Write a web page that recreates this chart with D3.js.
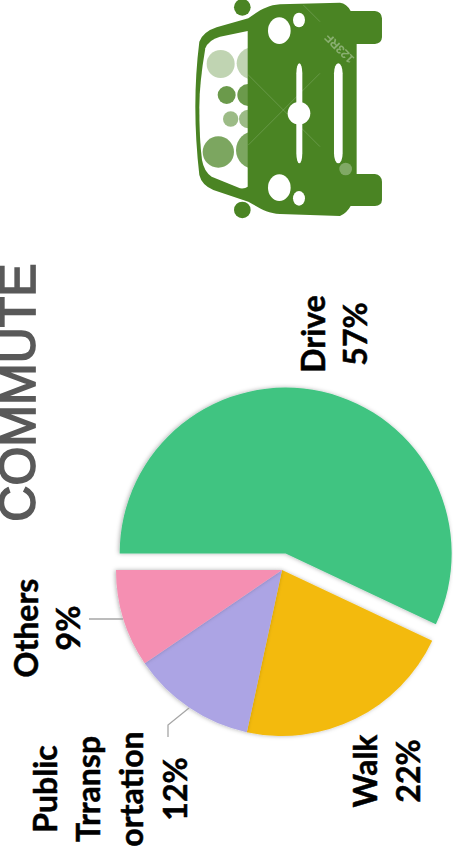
<!DOCTYPE html>
<html><head><meta charset="utf-8">
<script src="https://cdn.jsdelivr.net/npm/d3@7/dist/d3.min.js"></script>
<style>html,body{margin:0;padding:0;background:#fff;overflow:hidden}svg{display:block}</style>
</head><body>
<svg id="c" width="453" height="859"></svg>
<script>
const categories = ["Drive", "Walk", "Public Transportation", "Others"];
const shares = [57, 21.4, 12.1, 9.5];
const sliceColors = ["#3fc481", "#f3ba0f", "#aca4e4", "#f58fb2"];
const labelLines = [["Drive", "57%"], ["Walk", "22%"], ["Public", "Trransp", "ortation", "12%"], ["Others", "9%"]];
const labelBaselines = [[325, 367], [377, 420], [57, 100, 143, 187], [38, 80]];
const labelCentres = [334, 771, 789, 628];
const titleText = "COMMUTE";

const svg = d3.select("#c");
const defs = svg.append("defs");
const f = defs.append("filter").attr("id", "sh").attr("x", "-10%").attr("y", "-10%").attr("width", "120%").attr("height", "120%");
f.append("feDropShadow").attr("dx", -1).attr("dy", 0).attr("stdDeviation", 2).attr("flood-color", "#000").attr("flood-opacity", 0.3);

// title
svg.append("text").text(titleText)
  .attr("transform", "translate(35,392.5) rotate(-90)")
  .attr("text-anchor", "middle")
  .attr("font-family", "'Liberation Sans'")
  .attr("font-size", 50).attr("fill", "#595959")
  .attr("stroke", "#595959").attr("stroke-width", 1.7);

// pie: starts pointing left, clockwise
const cx = 282, cy = 570, R = 166, explode = 16.8;
const pie = d3.pie().sort(null).startAngle(-Math.PI / 2).endAngle(1.5 * Math.PI);
const arc = d3.arc().innerRadius(0).outerRadius(R);
const arcs = pie(shares);
const g = svg.append("g").attr("transform", `translate(${cx},${cy})`);
g.selectAll("path").data(arcs).join("path")
  .attr("d", arc).attr("fill", (d, i) => sliceColors[i])
  .attr("filter", "url(#sh)")
  .attr("transform", (d, i) => {
    if (i !== 0) return null;
    const a = (d.startAngle + d.endAngle) / 2;
    return `translate(${explode * Math.sin(a)},${-explode * Math.cos(a)})`;
  });

// leaders
const leader = d3.line();
svg.append("path").attr("d", leader([[89, 619], [123, 619]])).attr("fill", "none").attr("stroke", "#a6a6a6").attr("stroke-width", 1.3);
svg.append("path").attr("d", leader([[189, 708], [168, 725], [168, 737]])).attr("fill", "none").attr("stroke", "#a6a6a6").attr("stroke-width", 1.3);

// labels
labelLines.forEach((lines, i) => {
  lines.forEach((t, j) => {
    svg.append("text").text(t)
      .attr("transform", `translate(${labelBaselines[i][j]},${labelCentres[i]}) rotate(-90)`)
      .attr("text-anchor", "middle")
      .attr("font-family", "Lato").attr("font-weight", 700)
      .attr("font-size", 32).attr("fill", "#000")
      .attr("stroke", "#000").attr("stroke-width", 0.5);
  });
});

// car icon (zoom-space coordinates: px = 180 + x/3, py = y/3)
const car = svg.append("g").attr("transform", "translate(180,0) scale(0.3333)");
const green = "#4a8423";
car.append("path").attr("fill", green).attr("d",
 "M205 55 C240 30 262 16 300 13 L480 8 Q500 10 512 33 L585 33 Q605 35 606 55 L606 112 Q605 130 585 132 L530 132 L530 522 L585 522 Q605 525 606 545 L606 600 Q605 617 585 618 L512 618 Q500 640 480 648 L300 642 C262 640 240 625 205 605 L100 570 Q65 555 58 525 Q46 420 46 320 Q46 220 58 125 Q70 95 110 82 Z");
car.append("path").attr("fill", "#fff").attr("d",
 "M203 93 L120 110 Q85 120 76 145 Q58 250 58 320 Q58 420 66 480 Q72 515 95 530 L180 565 Q195 567 203 560 Z");
car.append("circle").attr("cx", 187).attr("cy", 22).attr("r", 25).attr("fill", green);
car.append("circle").attr("cx", 187).attr("cy", 630).attr("r", 25).attr("fill", green);
const bub = [[122,192,42,.35],[140,285,27,.82],[152,357,23,.55],[115,456,47,.72]];
car.selectAll(".b").data(bub).join("circle").attr("cx",d=>d[0]).attr("cy",d=>d[1]).attr("r",d=>d[2]).attr("fill",green).attr("opacity",d=>d[3]);
defs.append("clipPath").attr("id","win").append("rect").attr("x",0).attr("y",90).attr("width",204).attr("height",480);
const half = [[218,190,48,.35],[205,285,33,.82],[205,357,28,.55],[225,450,57,.72]];
car.selectAll(".h").data(half).join("circle").attr("cx",d=>d[0]).attr("cy",d=>d[1]).attr("r",d=>d[2]).attr("fill",green).attr("opacity",d=>d[3]).attr("clip-path","url(#win)");
const holes = [[298,92,34,40],[357,60,18,22],[298,563,34,40],[357,595,18,22],[357,340,34,34]];
car.selectAll(".w").data(holes).join("ellipse").attr("cx",d=>d[0]).attr("cy",d=>d[1]).attr("rx",d=>d[2]).attr("ry",d=>d[3]).attr("fill","#fff");
const slits = [[349,190,18,300],[462,190,26,300]];
car.selectAll(".s").data(slits).join("rect").attr("x",d=>d[0]).attr("y",d=>d[1]).attr("width",d=>d[2]).attr("height",d=>d[3]).attr("rx",d=>d[2]/2).attr("ry",30).attr("fill","#fff");
// stock-photo watermark traces
car.append("g").attr("stroke","#fff").attr("stroke-opacity",.25).attr("stroke-width",2).selectAll("line")
 .data([[205,225,420,440],[205,435,420,220],[370,15,420,65]]).join("line")
 .attr("x1",d=>d[0]).attr("y1",d=>d[1]).attr("x2",d=>d[2]).attr("y2",d=>d[3]);
car.append("text").text("123RF").attr("transform","translate(525,175) rotate(-135)").attr("font-family","'Liberation Sans'").attr("font-weight",700).attr("font-size",36).attr("fill","#fff").attr("opacity",.35);
car.append("circle").attr("cx",497).attr("cy",507).attr("r",19).attr("fill","#fff").attr("opacity",.3);
</script>
</body></html>
